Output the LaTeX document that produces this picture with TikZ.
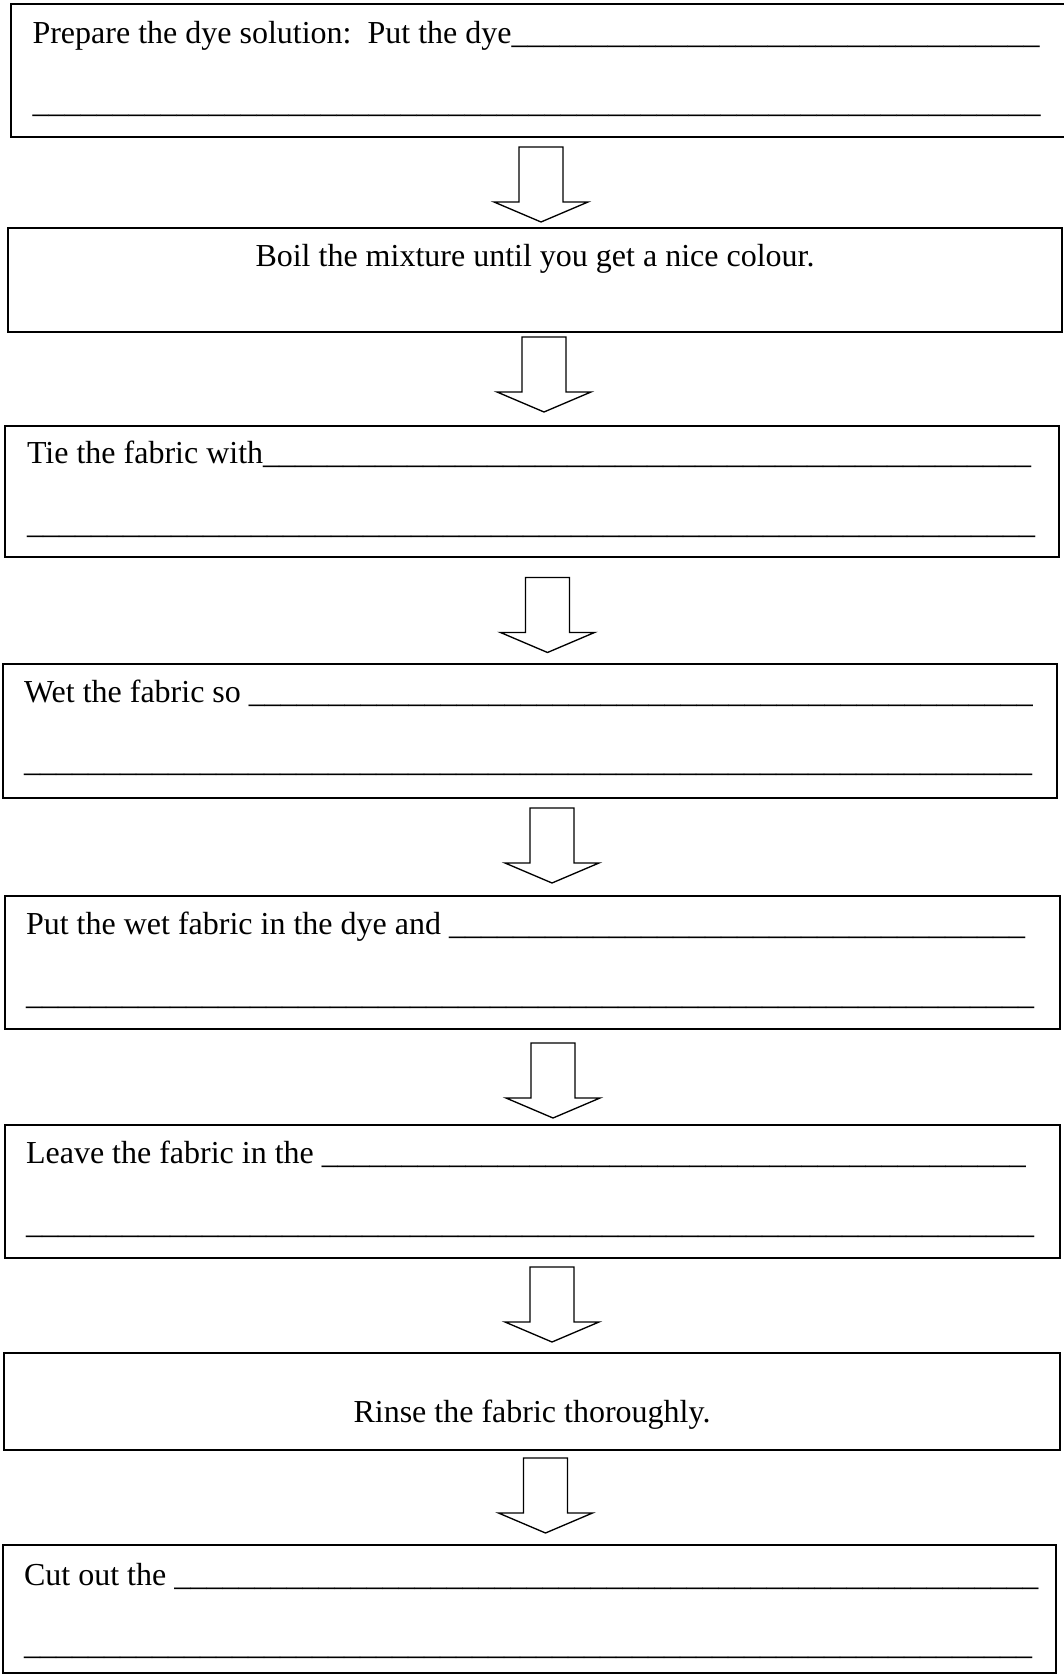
\documentclass[tikz,border=0pt]{standalone}
\usepackage{fontspec}
\setmainfont{Liberation Serif}
\usetikzlibrary{fit}

\tikzset{
  stepbox/.style={draw,line width=0.75pt,inner sep=0pt},
  steptext/.style={anchor=base west,inner sep=0pt,font=\fontsize{12}{14}\selectfont},
  midtext/.style={anchor=base,inner sep=0pt,font=\fontsize{12}{14}\selectfont},
  hollow/.style={draw,line width=0.5pt,fill=white,line join=miter},
}
\newcommand\blanks[1]{\foreach\k in {1,...,#1}{\_}}
% block arrow hanging from its top centre
\newcommand\hollowarrow[1]{%
  \draw[hollow] (#1) ++(-22,0) -- ++(0,55) -- ++(-25,0) -- ++(47,20)
    -- ++(47,-20) -- ++(-25,0) -- ++(0,-55) -- cycle;}

\begin{document}
\begin{tikzpicture}[x=0.375pt,y=-0.375pt]
\useasboundingbox (0,0) rectangle (1063,1674);
% ---------- boxes ----------
\node[stepbox,fit={(11,4) (1075,137)}] (s1) {};
\node[stepbox,fit={(8,228.5) (1062,332.5)}] (s2) {};
\node[stepbox,fit={(4.5,426) (1059,557)}] (s3) {};
\node[stepbox,fit={(2.5,664) (1056.5,797.5)}] (s4) {};
\node[stepbox,fit={(4.5,895.5) (1060,1029)}] (s5) {};
\node[stepbox,fit={(4.5,1125) (1060,1257.5)}] (s6) {};
\node[stepbox,fit={(4,1352.5) (1060,1450)}] (s7) {};
\node[stepbox,fit={(2.5,1544.5) (1056,1673)}] (s8) {};
% ---------- texts ----------
\node[steptext] (t1a) at (32,44) {Prepare the dye solution:~~Put the dye\blanks{33}};
\node[steptext] (t1b) at (32,113) {\blanks{63}};
\node[midtext] (t2) at (535,267) {Boil the mixture until you get a nice colour.};
\node[steptext] (t3a) at (26.5,464) {Tie the fabric with\blanks{48}};
\node[steptext] (t3b) at (26.5,534) {\blanks{63}};
\node[steptext] (t4a) at (23.5,702) {Wet the fabric so~\blanks{49}};
\node[steptext] (t4b) at (23.5,771) {\blanks{63}};
\node[steptext] (t5a) at (25.5,934) {Put the wet fabric in the dye and~\blanks{36}};
\node[steptext] (t5b) at (25.5,1004) {\blanks{63}};
\node[steptext] (t6a) at (25.5,1163) {Leave the fabric in the~\blanks{44}};
\node[steptext] (t6b) at (25.5,1233) {\blanks{63}};
\node[midtext] (t7) at (532,1422.5) {Rinse the fabric thoroughly.};
\node[steptext] (t8a) at (23.5,1585.5) {Cut out the~\blanks{54}};
\node[steptext] (t8b) at (23.5,1654) {\blanks{63}};
% ---------- arrows ----------
\coordinate (a1) at (541,147);
\coordinate (a2) at (544,337);
\coordinate (a3) at (547.5,577.5);
\coordinate (a4) at (552,808);
\coordinate (a5) at (553,1043);
\coordinate (a6) at (552,1267);
\coordinate (a7) at (545.5,1458);
\foreach \a in {a1,a2,a3,a4,a5,a6,a7} {\hollowarrow{\a}}
\end{tikzpicture}
\end{document}
